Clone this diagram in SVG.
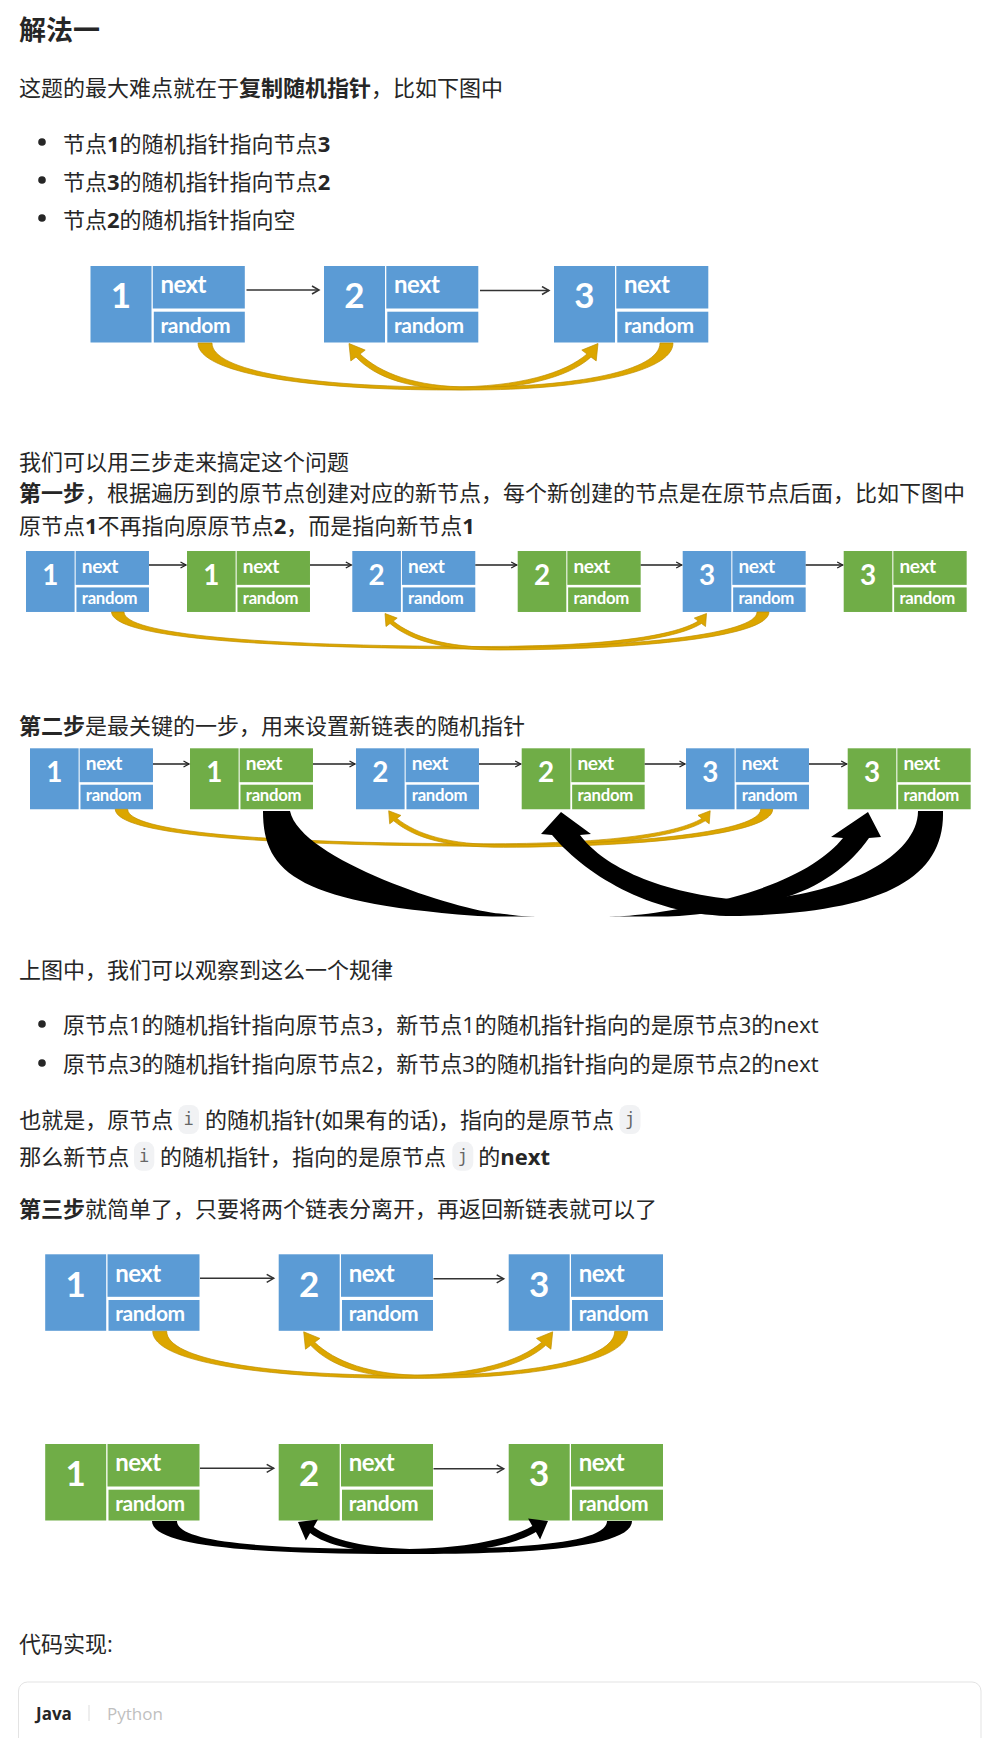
<svg xmlns="http://www.w3.org/2000/svg" width="996" height="1738" viewBox="0 0 996 1738">
<style>
.t{font-family:"Open Sans","Noto Sans CJK SC",sans-serif;font-size:22px;fill:#262626}
.b{font-weight:700}
.h{font-size:27px;font-weight:700}
.blue{fill:#5B9BD5}
.green{fill:#70AD47}
.num{font-family:Lato,"Open Sans",sans-serif;font-weight:700;font-size:35px;fill:#fff;text-anchor:middle}
.fld{font-family:Lato,"Open Sans",sans-serif;font-weight:700;fill:#fff}
.nx{font-size:24px}
.rd{font-size:21px}
.ln{stroke:#333;stroke-width:1.5;fill:none;marker-end:url(#arr)}
.lns{stroke:#222;stroke-width:1.3;fill:none;marker-end:url(#arrs)}
.gold{fill:#DCA600;stroke:#BF8F00;stroke-width:0.7}
.blk{fill:#000}
.dot{fill:#262626}
.code{fill:#F1F2F4}
.mono{font-family:"DejaVu Sans Mono","Liberation Mono",monospace;font-size:17px;fill:#666;text-anchor:middle}
</style>
<defs>
<marker id="arr" markerWidth="10" markerHeight="10" refX="8" refY="5" orient="auto" markerUnits="userSpaceOnUse">
<path d="M1,1 L8,5 L1,9" fill="none" stroke="#333" stroke-width="1.5"/>
</marker>
<marker id="arrs" markerWidth="8" markerHeight="8" refX="6.5" refY="4" orient="auto" markerUnits="userSpaceOnUse">
<path d="M1,1 L6.5,4 L1,7" fill="none" stroke="#222" stroke-width="1.3"/>
</marker>
<clipPath id="clip3"><rect x="0" y="700" width="996" height="216.5"/></clipPath>
</defs>

<g id="text">
<text class="t h" x="19" y="40">解法一</text>
<text class="t" x="19" y="96">这题的最大难点就在于<tspan class="b">复制随机指针</tspan>，比如下图中</text>
<circle class="dot" cx="42" cy="142" r="3.8"/>
<text class="t" x="63" y="151.5">节点<tspan class="b">1</tspan>的随机指针指向节点<tspan class="b">3</tspan></text>
<circle class="dot" cx="42" cy="180" r="3.8"/>
<text class="t" x="63" y="189.5">节点<tspan class="b">3</tspan>的随机指针指向节点<tspan class="b">2</tspan></text>
<circle class="dot" cx="42" cy="218" r="3.8"/>
<text class="t" x="63" y="227.5">节点<tspan class="b">2</tspan>的随机指针指向空</text>
<text class="t" x="19" y="470">我们可以用三步走来搞定这个问题</text>
<text class="t" x="19" y="500.5"><tspan class="b">第一步</tspan>，根据遍历到的原节点创建对应的新节点，每个新创建的节点是在原节点后面，比如下图中</text>
<text class="t" x="19" y="533.5">原节点<tspan class="b">1</tspan>不再指向原原节点<tspan class="b">2</tspan>，而是指向新节点<tspan class="b">1</tspan></text>
<text class="t" x="19" y="733.5"><tspan class="b">第二步</tspan>是最关键的一步，用来设置新链表的随机指针</text>
<text class="t" x="19" y="978">上图中，我们可以观察到这么一个规律</text>
<circle class="dot" cx="42" cy="1024" r="3.8"/>
<text class="t" x="63" y="1032.5">原节点1的随机指针指向原节点3，新节点1的随机指针指向的是原节点3的next</text>
<circle class="dot" cx="42" cy="1063" r="3.8"/>
<text class="t" x="63" y="1071.5">原节点3的随机指针指向原节点2，新节点3的随机指针指向的是原节点2的next</text>
<text class="t" x="19.3" y="1127.7">也就是，原节点</text>
<rect class="code" x="178.3" y="1105" width="20.7" height="29" rx="8"/>
<text class="mono" x="188.6" y="1125">i</text>
<text class="t" x="205" y="1127.7">的随机指针(如果有的话)，指向的是原节点</text>
<rect class="code" x="619.5" y="1105" width="21" height="29" rx="8"/>
<text class="mono" x="630" y="1125">j</text>
<text class="t" x="19.3" y="1164.5">那么新节点</text>
<rect class="code" x="134" y="1141.8" width="20.3" height="29" rx="8"/>
<text class="mono" x="144.2" y="1161.8">i</text>
<text class="t" x="160" y="1164.5">的随机指针，指向的是原节点</text>
<rect class="code" x="452.3" y="1141.8" width="21" height="29" rx="8"/>
<text class="mono" x="462.8" y="1161.8">j</text>
<text class="t" x="478.3" y="1164.5">的<tspan class="b">next</tspan></text>
<text class="t" x="19" y="1216.5"><tspan class="b">第三步</tspan>就简单了，只要将两个链表分离开，再返回新链表就可以了</text>
<text class="t" x="19" y="1651.5">代码实现:</text>
</g>

<g id="codebox">
<rect x="18.5" y="1682" width="962.5" height="90" rx="9" fill="#fff" stroke="#E3E3E3" stroke-width="1"/>
<text x="36" y="1720" style="font-family:'Open Sans',sans-serif;font-size:17px;font-weight:700;fill:#262626">Java</text>
<line x1="89" y1="1705" x2="89" y2="1721" stroke="#E8E8E8" stroke-width="1.5"/>
<text x="107" y="1720" style="font-family:'Open Sans',sans-serif;font-size:17px;fill:#BFBFBF">Python</text>
</g>

<!-- Diagram 1 nodes -->
<g id="d1-n1" transform="translate(90.5,266)"><rect class="blue" width="61" height="76.5"/><rect class="blue" x="62.3" width="92" height="42.5"/><rect class="blue" x="63.3" y="45.7" width="91" height="30.8"/><text class="num" x="30.5" y="42.4">1</text><text class="fld nx" x="70" y="27.4" textLength="46">next</text><text class="fld rd" x="70" y="66.7" textLength="70">random</text></g>
<g id="d1-n2" transform="translate(324,266)"><rect class="blue" width="61" height="76.5"/><rect class="blue" x="62.3" width="92" height="42.5"/><rect class="blue" x="63.3" y="45.7" width="91" height="30.8"/><text class="num" x="30.5" y="42.4">2</text><text class="fld nx" x="70" y="27.4" textLength="46">next</text><text class="fld rd" x="70" y="66.7" textLength="70">random</text></g>
<g id="d1-n3" transform="translate(554,266)"><rect class="blue" width="61" height="76.5"/><rect class="blue" x="62.3" width="92" height="42.5"/><rect class="blue" x="63.3" y="45.7" width="91" height="30.8"/><text class="num" x="30.5" y="42.4">3</text><text class="fld nx" x="70" y="27.4" textLength="46">next</text><text class="fld rd" x="70" y="66.7" textLength="70">random</text></g>

<!-- Diagram 2 nodes -->
<g id="d2-n1" transform="translate(26,551) scale(0.797)"><rect class="blue" width="61" height="76.5"/><rect class="blue" x="62.3" width="92" height="42.5"/><rect class="blue" x="63.3" y="45.7" width="91" height="30.8"/><text class="num" x="30.5" y="42.4">1</text><text class="fld nx" x="70" y="27.4" textLength="46">next</text><text class="fld rd" x="70" y="66.7" textLength="70">random</text></g>
<g id="d2-n2" transform="translate(187,551) scale(0.797)"><rect class="green" width="61" height="76.5"/><rect class="green" x="62.3" width="92" height="42.5"/><rect class="green" x="63.3" y="45.7" width="91" height="30.8"/><text class="num" x="30.5" y="42.4">1</text><text class="fld nx" x="70" y="27.4" textLength="46">next</text><text class="fld rd" x="70" y="66.7" textLength="70">random</text></g>
<g id="d2-n3" transform="translate(352.3,551) scale(0.797)"><rect class="blue" width="61" height="76.5"/><rect class="blue" x="62.3" width="92" height="42.5"/><rect class="blue" x="63.3" y="45.7" width="91" height="30.8"/><text class="num" x="30.5" y="42.4">2</text><text class="fld nx" x="70" y="27.4" textLength="46">next</text><text class="fld rd" x="70" y="66.7" textLength="70">random</text></g>
<g id="d2-n4" transform="translate(517.7,551) scale(0.797)"><rect class="green" width="61" height="76.5"/><rect class="green" x="62.3" width="92" height="42.5"/><rect class="green" x="63.3" y="45.7" width="91" height="30.8"/><text class="num" x="30.5" y="42.4">2</text><text class="fld nx" x="70" y="27.4" textLength="46">next</text><text class="fld rd" x="70" y="66.7" textLength="70">random</text></g>
<g id="d2-n5" transform="translate(682.7,551) scale(0.797)"><rect class="blue" width="61" height="76.5"/><rect class="blue" x="62.3" width="92" height="42.5"/><rect class="blue" x="63.3" y="45.7" width="91" height="30.8"/><text class="num" x="30.5" y="42.4">3</text><text class="fld nx" x="70" y="27.4" textLength="46">next</text><text class="fld rd" x="70" y="66.7" textLength="70">random</text></g>
<g id="d2-n6" transform="translate(843.7,551) scale(0.797)"><rect class="green" width="61" height="76.5"/><rect class="green" x="62.3" width="92" height="42.5"/><rect class="green" x="63.3" y="45.7" width="91" height="30.8"/><text class="num" x="30.5" y="42.4">3</text><text class="fld nx" x="70" y="27.4" textLength="46">next</text><text class="fld rd" x="70" y="66.7" textLength="70">random</text></g>

<!-- Diagram 3 nodes -->
<g id="d3-n1" transform="translate(30,748.3) scale(0.797)"><rect class="blue" width="61" height="76.5"/><rect class="blue" x="62.3" width="92" height="42.5"/><rect class="blue" x="63.3" y="45.7" width="91" height="30.8"/><text class="num" x="30.5" y="42.4">1</text><text class="fld nx" x="70" y="27.4" textLength="46">next</text><text class="fld rd" x="70" y="66.7" textLength="70">random</text></g>
<g id="d3-n2" transform="translate(190,748.3) scale(0.797)"><rect class="green" width="61" height="76.5"/><rect class="green" x="62.3" width="92" height="42.5"/><rect class="green" x="63.3" y="45.7" width="91" height="30.8"/><text class="num" x="30.5" y="42.4">1</text><text class="fld nx" x="70" y="27.4" textLength="46">next</text><text class="fld rd" x="70" y="66.7" textLength="70">random</text></g>
<g id="d3-n3" transform="translate(356,748.3) scale(0.797)"><rect class="blue" width="61" height="76.5"/><rect class="blue" x="62.3" width="92" height="42.5"/><rect class="blue" x="63.3" y="45.7" width="91" height="30.8"/><text class="num" x="30.5" y="42.4">2</text><text class="fld nx" x="70" y="27.4" textLength="46">next</text><text class="fld rd" x="70" y="66.7" textLength="70">random</text></g>
<g id="d3-n4" transform="translate(521.7,748.3) scale(0.797)"><rect class="green" width="61" height="76.5"/><rect class="green" x="62.3" width="92" height="42.5"/><rect class="green" x="63.3" y="45.7" width="91" height="30.8"/><text class="num" x="30.5" y="42.4">2</text><text class="fld nx" x="70" y="27.4" textLength="46">next</text><text class="fld rd" x="70" y="66.7" textLength="70">random</text></g>
<g id="d3-n5" transform="translate(686,748.3) scale(0.797)"><rect class="blue" width="61" height="76.5"/><rect class="blue" x="62.3" width="92" height="42.5"/><rect class="blue" x="63.3" y="45.7" width="91" height="30.8"/><text class="num" x="30.5" y="42.4">3</text><text class="fld nx" x="70" y="27.4" textLength="46">next</text><text class="fld rd" x="70" y="66.7" textLength="70">random</text></g>
<g id="d3-n6" transform="translate(847.7,748.3) scale(0.797)"><rect class="green" width="61" height="76.5"/><rect class="green" x="62.3" width="92" height="42.5"/><rect class="green" x="63.3" y="45.7" width="91" height="30.8"/><text class="num" x="30.5" y="42.4">3</text><text class="fld nx" x="70" y="27.4" textLength="46">next</text><text class="fld rd" x="70" y="66.7" textLength="70">random</text></g>

<!-- Diagram 4 nodes -->
<g id="d4-n1" transform="translate(45.2,1254.3)"><rect class="blue" width="61" height="76.5"/><rect class="blue" x="62.3" width="92" height="42.5"/><rect class="blue" x="63.3" y="45.7" width="91" height="30.8"/><text class="num" x="30.5" y="42.4">1</text><text class="fld nx" x="70" y="27.4" textLength="46">next</text><text class="fld rd" x="70" y="66.7" textLength="70">random</text></g>
<g id="d4-n2" transform="translate(278.7,1254.3)"><rect class="blue" width="61" height="76.5"/><rect class="blue" x="62.3" width="92" height="42.5"/><rect class="blue" x="63.3" y="45.7" width="91" height="30.8"/><text class="num" x="30.5" y="42.4">2</text><text class="fld nx" x="70" y="27.4" textLength="46">next</text><text class="fld rd" x="70" y="66.7" textLength="70">random</text></g>
<g id="d4-n3" transform="translate(508.7,1254.3)"><rect class="blue" width="61" height="76.5"/><rect class="blue" x="62.3" width="92" height="42.5"/><rect class="blue" x="63.3" y="45.7" width="91" height="30.8"/><text class="num" x="30.5" y="42.4">3</text><text class="fld nx" x="70" y="27.4" textLength="46">next</text><text class="fld rd" x="70" y="66.7" textLength="70">random</text></g>

<!-- Diagram 5 nodes -->
<g id="d5-n1" transform="translate(45.2,1444)"><rect class="green" width="61" height="76.5"/><rect class="green" x="62.3" width="92" height="42.5"/><rect class="green" x="63.3" y="45.7" width="91" height="30.8"/><text class="num" x="30.5" y="42.4">1</text><text class="fld nx" x="70" y="27.4" textLength="46">next</text><text class="fld rd" x="70" y="66.7" textLength="70">random</text></g>
<g id="d5-n2" transform="translate(278.7,1444)"><rect class="green" width="61" height="76.5"/><rect class="green" x="62.3" width="92" height="42.5"/><rect class="green" x="63.3" y="45.7" width="91" height="30.8"/><text class="num" x="30.5" y="42.4">2</text><text class="fld nx" x="70" y="27.4" textLength="46">next</text><text class="fld rd" x="70" y="66.7" textLength="70">random</text></g>
<g id="d5-n3" transform="translate(508.7,1444)"><rect class="green" width="61" height="76.5"/><rect class="green" x="62.3" width="92" height="42.5"/><rect class="green" x="63.3" y="45.7" width="91" height="30.8"/><text class="num" x="30.5" y="42.4">3</text><text class="fld nx" x="70" y="27.4" textLength="46">next</text><text class="fld rd" x="70" y="66.7" textLength="70">random</text></g>

<g id="connectors">
<!-- next arrows -->
<path class="ln" d="M246.5,290 H319"/>
<path class="ln" d="M480,290.5 H549"/>
<path class="lns" d="M149,565 H186"/>
<path class="lns" d="M310,565 H351.3"/>
<path class="lns" d="M475.3,565 H516.7"/>
<path class="lns" d="M640.7,565 H681.7"/>
<path class="lns" d="M805.7,565 H842.7"/>
<path class="lns" d="M153,764 H189"/>
<path class="lns" d="M313,764 H355"/>
<path class="lns" d="M479,764 H520.7"/>
<path class="lns" d="M644.7,764 H685"/>
<path class="lns" d="M809,764 H846.7"/>
<path class="ln" d="M200,1278.3 H273.7"/>
<path class="ln" d="M433.5,1278.8 H503.7"/>
<path class="ln" d="M200,1468.3 H273.7"/>
<path class="ln" d="M433.5,1468.8 H503.7"/>

<!-- Diagram 1 random pointers -->
<g id="d1-rand">
<path class="gold" d="M198,343 C198,373 305,390 450,390 C520,390 568,378 591,357 L596.2,360.9 L598,343.5 L581.8,350.1 L587,354 C565,373 520,387 450,387 C310,387 212,371 212,343 Z"/>
<path class="gold" d="M673,343 C673,373 580,390 470,390 C410,390 376,378 356,357 L350.8,360.9 L349,343.5 L365.2,350.1 L360,354 C380,373 415,387 470,387 C575,387 660,371 660,343 Z"/>
</g>
<!-- Diagram 2 random pointers -->
<g id="d2-rand">
<path class="gold" d="M111.5,612 C113,637 250,648 480,649 C600,649.5 675,640 701.5,623.5 L705.5,626.5 L706.5,613.5 L694.3,618.1 L698.3,621.1 C672,637 600,646.5 480,646.5 C255,646 124,634 124,612 Z"/>
<path class="gold" d="M769,612 C769,637 640,649.5 500,650 C440,650 410,640 390,623.5 L386,626.5 L385,613.5 L397.2,618.1 L393.2,621.1 C413,637 445,647.5 500,647.5 C635,647 757,634 757,612 Z"/>
</g>
<!-- Diagram 3 random pointers -->
<g id="d3-rand" transform="translate(3.7,197.3)">
<path class="gold" d="M111.5,612 C113,637 250,648 480,649 C600,649.5 675,640 701.5,623.5 L705.5,626.5 L706.5,613.5 L694.3,618.1 L698.3,621.1 C672,637 600,646.5 480,646.5 C255,646 124,634 124,612 Z"/>
<path class="gold" d="M769,612 C769,637 640,649.5 500,650 C440,650 410,640 390,623.5 L386,626.5 L385,613.5 L397.2,618.1 L393.2,621.1 C413,637 445,647.5 500,647.5 C635,647 757,634 757,612 Z"/>
</g>
<g id="d3-newrand" clip-path="url(#clip3)">
<path class="blk" d="M263,811 C263,875 300,905 500,917.5 C540,920 600,922 640,919 C700,915 750,910 780,899 C820,888 850,865 869,838 L881,837 L868,812 L831,837 L843,838 C825,860 790,882 730,898 C670,913 630,916 612,916.8 C590,918.5 555,918.5 532,916.8 C515,915.5 505,914 500,913.5 C460,911 300,860 290,811 Z"/>
<path class="blk" d="M943,811 C945,880 880,912 740,916 C660,918 590,880 552,835 L541,834 L561,812 L591,834 L580,835 C600,862 650,892 740,900 C830,900 918,860 918,811 Z"/>
</g>
<!-- Diagram 4 random pointers -->
<g id="d4-rand" transform="translate(-45.3,988.3)">
<path class="gold" d="M198,343 C198,373 305,390 450,390 C520,390 568,378 591,357 L596.2,360.9 L598,343.5 L581.8,350.1 L587,354 C565,373 520,387 450,387 C310,387 212,371 212,343 Z"/>
<path class="gold" d="M673,343 C673,373 580,390 470,390 C410,390 376,378 356,357 L350.8,360.9 L349,343.5 L365.2,350.1 L360,354 C380,373 415,387 470,387 C575,387 660,371 660,343 Z"/>
</g>
<!-- Diagram 5 random pointers -->
<g id="d5-rand">
<path class="blk" d="M152,1521 C152,1546 250,1554 400,1554 C470,1554 515,1545 535.9,1532 L540.1,1539.4 L548,1521 L528.1,1518.6 L532.3,1526 C512,1538 468,1549 400,1549 C260,1549 177,1542 177,1521 Z"/>
<path class="blk" d="M632,1521 C632,1546 540,1554 420,1554 C360,1554 325,1545 310.1,1533 L305.9,1540.4 L298,1522 L317.9,1519.6 L313.7,1527 C330,1539 365,1549 420,1549 C530,1549 607,1542 607,1521 Z"/>
</g>
</g>
</svg>
